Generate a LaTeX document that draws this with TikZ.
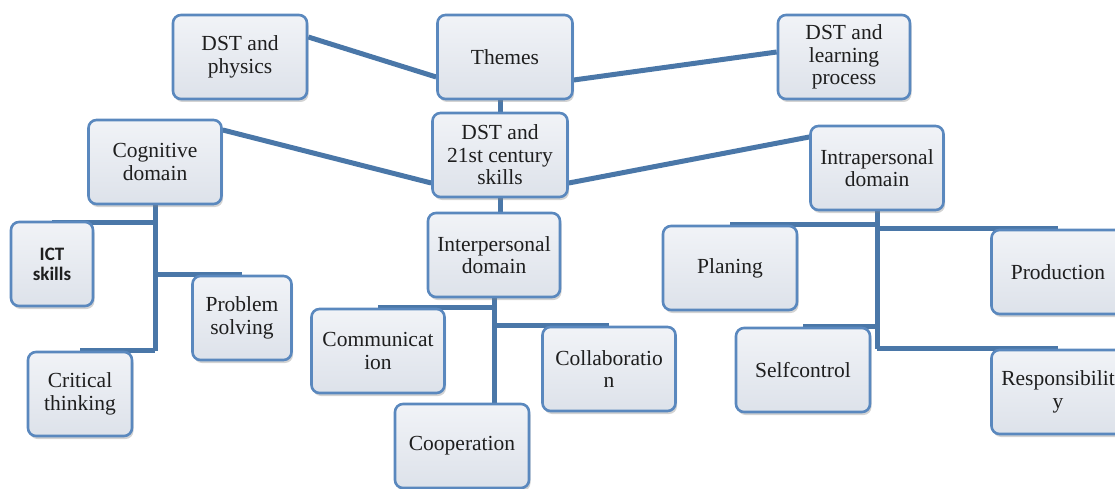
\documentclass[tikz,border=0pt]{standalone}
\usepackage{fontspec}
\setmainfont{Liberation Serif}
\newfontfamily\calfont{Carlito}
\usetikzlibrary{positioning,calc,shadows,backgrounds}
\definecolor{edge}{HTML}{5A88BE}
\definecolor{link}{HTML}{4A77A8}
\definecolor{boxtop}{HTML}{F1F3F7}
\definecolor{boxbot}{HTML}{DDE2EA}
\definecolor{ink}{HTML}{1E1E1E}
\tikzset{
  box/.style={draw=edge,line width=2.6pt,rounded corners=8pt,
    top color=boxtop,bottom color=boxbot,
    drop shadow={shadow xshift=1.5pt,shadow yshift=-3pt,opacity=0.35,fill=gray},
    minimum width=133pt,minimum height=84pt,inner sep=2pt,align=center,
    text=ink,font=\fontsize{21.5}{22.5}\selectfont},
  branch/.style={link,line width=5pt}
}
\begin{document}
\begin{tikzpicture}[x=1pt,y=1pt]
\useasboundingbox (0,0) rectangle (1115,-489);
% top row
\node[box,minimum width=134pt] (phys) at (240,-57) {DST and\\physics};
\node[box,minimum width=135pt] (themes) at (505,-57) {Themes};
\node[box,minimum width=132pt] (learn) at (844,-57) {DST and\\learning\\process};
% centre and domains
\node[box,minimum width=135pt] (skills) at (500,-155) {DST and\\21st century\\skills};
\node[box] (cog) at (155,-162) {Cognitive\\domain};
\node[box] (intra) at (877,-168) {Intrapersonal\\domain};
\node[box,minimum width=132pt] (inter) at (494,-255) {Interpersonal\\domain};
% cognitive
\node[box,minimum width=82pt,font=\calfont\bfseries\fontsize{19}{20}\selectfont] (ict) at (52,-264) {ICT\\skills};
\node[box,minimum width=99pt] (prob) at (242,-318) {Problem\\solving};
\node[box,minimum width=104pt] (crit) at (80,-394) {Critical\\thinking};
% interpersonal
\node[box] (comm) at (378,-351) {Communicat\\ion};
\node[box] (collab) at (609,-369) {Collaboratio\\n};
\node[box,minimum width=134pt] (coop) at (462,-446) {Cooperation};
% intrapersonal
\node[box,minimum width=134pt] (plan) at (730,-268) {Planing};
\node[box] (prod) at (1058,-272) {Production};
\node[box,minimum width=134pt] (self) at (803,-370) {Selfcontrol};
\node[box] (resp) at (1058,-392) {Responsibilit\\y};

\begin{scope}[on background layer]
\draw[branch] ($(phys.east)+(0,20)$) -- ($(themes.west)+(0,-20)$);
\draw[branch] ($(themes.east)+(0,-23)$) -- ($(learn.west)+(0,5)$);
\draw[branch] (themes.south -| skills.north) -- (skills.north);
\draw[branch] ($(cog.east)+(0,32)$) -- ($(skills.west)+(0,-28)$);
\draw[branch] ($(skills.east)+(0,-28)$) -- ($(intra.west)+(0,31)$);
\draw[branch] (skills.south) -- (skills.south |- inter.north);
% cognitive tree
\draw[branch] (cog.south) -- (cog.south |- crit.north);
\draw[branch] ($(ict.north)+(0,-2)$) -- ($(ict.north -| cog.south)+(0,-2)$);
\draw[branch] (prob.north) -- (prob.north -| cog.south);
\draw[branch] (crit.north) -- (crit.north -| cog.south);
% interpersonal tree
\draw[branch] (inter.south) -- (inter.south |- coop.north);
\draw[branch] (comm.north) -- (comm.north -| inter.south);
\draw[branch] (collab.north) -- (collab.north -| inter.south);
% intrapersonal tree
\draw[branch] (intra.south) -- (intra.south |- resp.north);
\draw[branch] (plan.north) -- (plan.north -| intra.south);
\draw[branch] (prod.north) -- (prod.north -| intra.south);
\draw[branch] (self.north) -- (self.north -| intra.south);
\draw[branch] (resp.north) -- (resp.north -| intra.south);
\end{scope}
\end{tikzpicture}
\end{document}
